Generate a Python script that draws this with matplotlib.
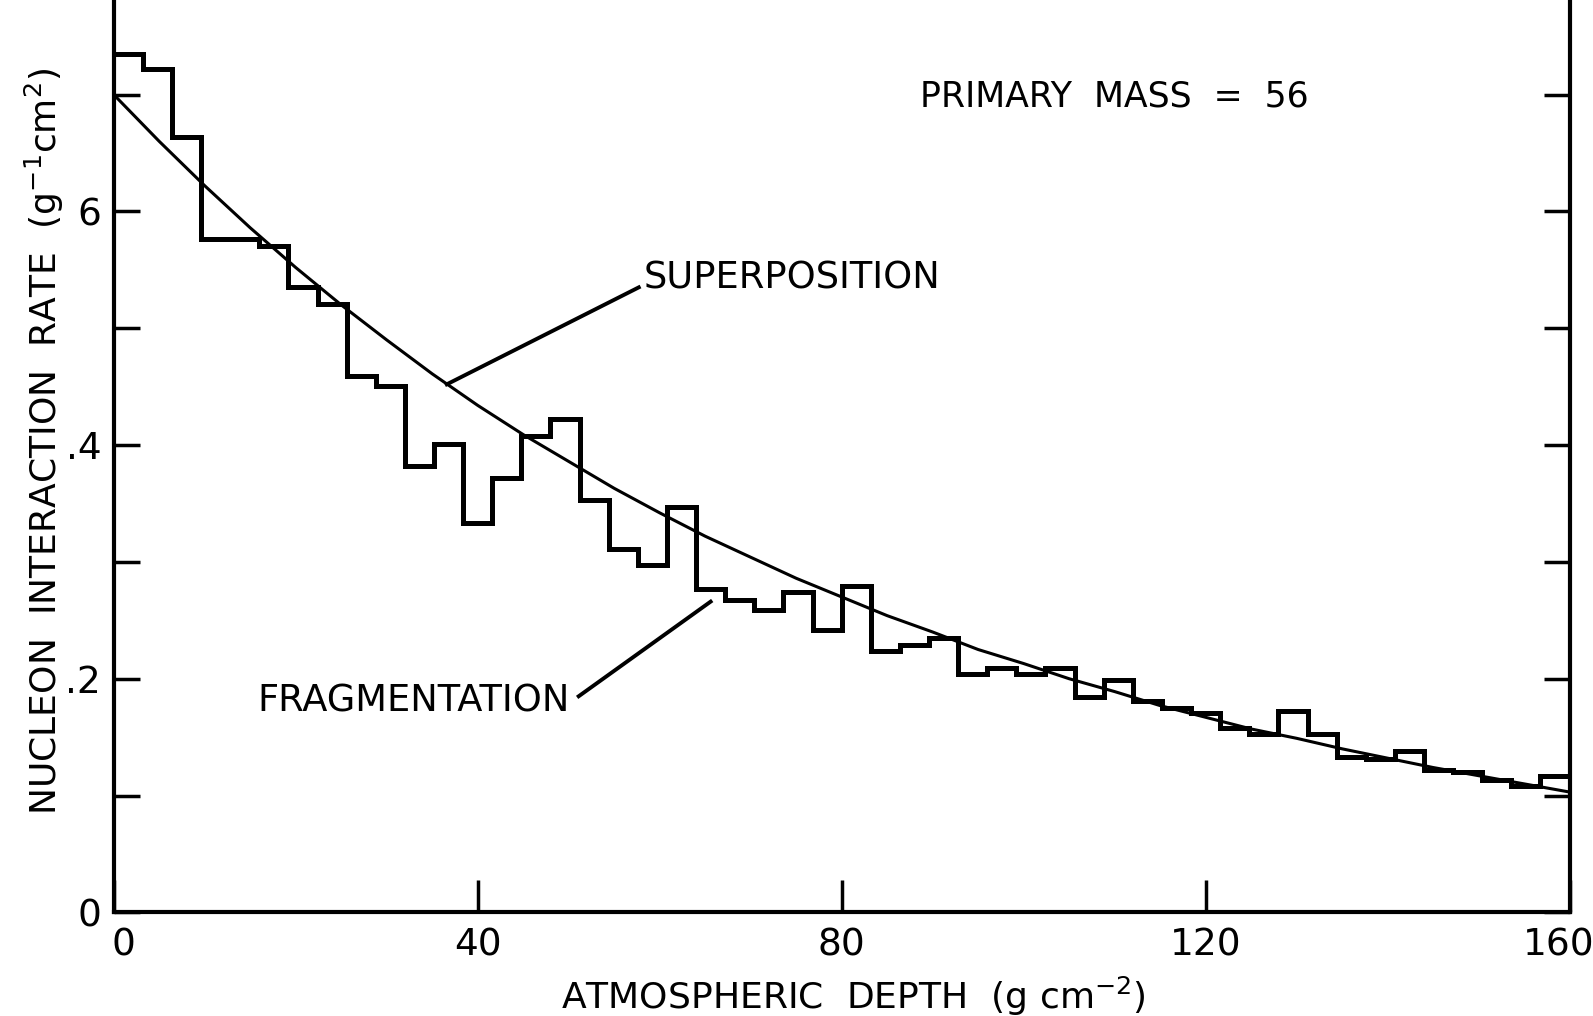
import numpy as np
import matplotlib
matplotlib.use("Agg")
import matplotlib.pyplot as plt
from matplotlib.transforms import ScaledTranslation

# histogramme "fragmentation" : 50 classes de 3.2 g cm-2
bin_width = 3.2
frag_rate = [0.735, 0.722, 0.664, 0.576, 0.576, 0.570, 0.535, 0.521, 0.459, 0.451,
             0.382, 0.401, 0.333, 0.372, 0.408, 0.422, 0.353, 0.311, 0.297, 0.347,
             0.277, 0.267, 0.259, 0.274, 0.242, 0.279, 0.224, 0.229, 0.235, 0.204,
             0.209, 0.204, 0.209, 0.184, 0.199, 0.181, 0.175, 0.171, 0.158, 0.153,
             0.172, 0.153, 0.133, 0.131, 0.138, 0.122, 0.120, 0.113, 0.108, 0.117]

# courbe "superposition"
super_depth = [0, 5, 10, 15, 20, 25, 30, 35, 40, 45, 50, 55, 60, 65, 70, 75, 80,
               85, 90, 95, 100, 105, 110, 115, 120, 125, 130, 135, 140, 145, 150, 155, 160]
super_rate = [0.700, 0.660, 0.622, 0.586, 0.552, 0.520, 0.490, 0.461, 0.434, 0.409,
              0.386, 0.363, 0.342, 0.322, 0.304, 0.286, 0.270, 0.254, 0.240, 0.225,
              0.213, 0.200, 0.189, 0.177, 0.167, 0.157, 0.149, 0.140, 0.132, 0.124,
              0.117, 0.110, 0.103]

x_ticks = [0, 40, 80, 120, 160]
x_ticklabels = ["0", "40", "80", "120", "160"]
y_ticks = [0, 0.1, 0.2, 0.3, 0.4, 0.5, 0.6, 0.7]
y_ticklabels = ["0", "", ".2", "", ".4", "", "6", ""]

plt.rcParams['font.family'] = ['DejaVu Sans']

fig = plt.figure(figsize=(15.93, 10.16), dpi=100)
ax = fig.add_axes([0.0714, 0.102, 0.9139, 0.898])

edges = np.arange(len(frag_rate) + 1) * bin_width
ax.stairs(frag_rate, edges, color='black', linewidth=3.6, baseline=None)
ax.plot(super_depth, super_rate, color='black', linewidth=2.2)

# etiquettes avec traits de rappel
ax.plot([36.6, 57.7], [0.452, 0.535], color='black', linewidth=2.8)
ax.text(58.2, 0.543, "SUPERPOSITION", fontsize=26.5, va='center', ha='left')
ax.plot([51.1, 65.6], [0.185, 0.266], color='black', linewidth=2.8)
ax.text(15.8, 0.181, "FRAGMENTATION", fontsize=26.5, va='center', ha='left')
ax.text(88.6, 0.698, "PRIMARY  MASS  =  56", fontsize=25, va='center', ha='left')

ax.set_xlim(0, 160)
ax.set_ylim(0, 0.781)
ax.set_xticks(x_ticks)
ax.set_xticklabels(x_ticklabels)
ax.set_yticks(y_ticks)
ax.set_yticklabels(y_ticklabels)
ax.tick_params(axis='x', direction='in', length=23, width=2.5, labelsize=27, pad=11)
ax.tick_params(axis='y', direction='in', length=19, width=2.5, labelsize=27, pad=9,
               right=True)

# decaler "0" et "160" comme sur l'original
labs = ax.get_xticklabels()
labs[0].set_transform(labs[0].get_transform() + ScaledTranslation(7 / 72, 0, fig.dpi_scale_trans))
labs[-1].set_transform(labs[-1].get_transform() + ScaledTranslation(-8 / 72, 0, fig.dpi_scale_trans))

ax.spines['top'].set_visible(False)
for s in ['left', 'right', 'bottom']:
    ax.spines[s].set_linewidth(3)

ax.set_xlabel("ATMOSPHERIC  DEPTH  (g cm$^{-2}$)", fontsize=26)
ax.xaxis.set_label_coords(0.508, -0.068)
ax.set_ylabel("NUCLEON  INTERACTION  RATE  (g$^{-1}$cm$^{2}$)", fontsize=26)
ax.yaxis.set_label_coords(-0.033, 0.516)

fig.savefig("out.png", dpi=100)
